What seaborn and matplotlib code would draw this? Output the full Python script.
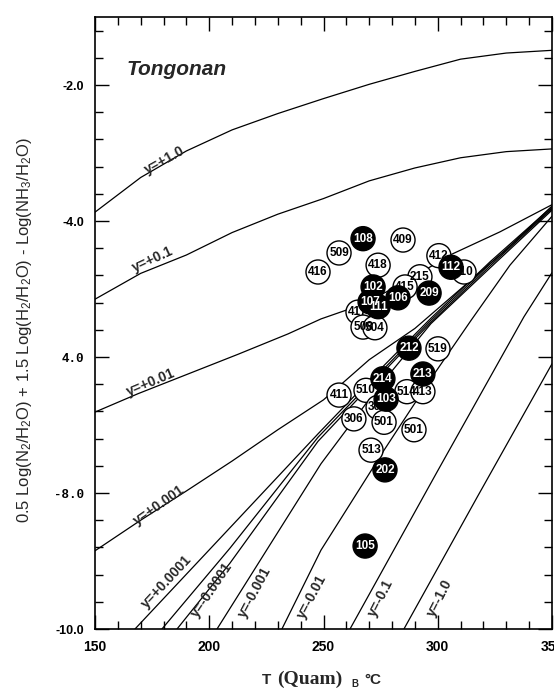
import matplotlib
matplotlib.use("Agg")
import matplotlib.pyplot as plt
import pandas as pd
import seaborn as sns
from matplotlib.ticker import MultipleLocator

# curves: T (deg C) and 0.5logN2 + 1.5logH2 - logNH3
t_p1 = [150, 170, 190, 210, 230, 250, 270, 290, 310, 330, 350]
v_p1 = [-3.87, -3.36, -2.97, -2.66, -2.42, -2.20, -1.99, -1.80, -1.62, -1.53, -1.49]
t_p01 = [150, 170, 190, 210, 230, 250, 270, 290, 310, 330, 350]
v_p01 = [-5.15, -4.77, -4.50, -4.17, -3.90, -3.67, -3.41, -3.22, -3.07, -2.98, -2.94]
t_p001 = [150, 168.8, 190.7, 212.6, 234.5, 248.9, 266.0, 283.5, 305.4, 327.2, 350]
v_p001 = [-6.81, -6.54, -6.25, -5.96, -5.66, -5.44, -5.24, -4.94, -4.50, -4.16, -3.76]
t_p0001 = [150, 170, 190, 210, 230, 250, 270, 290, 310, 330, 350]
v_p0001 = [-8.85, -8.40, -7.97, -7.53, -7.07, -6.63, -6.04, -5.58, -5.00, -4.42, -3.78]
t_p00001 = [167.5, 209.1, 247.6, 272.5, 297.0, 322.9, 350]
v_p00001 = [-10.0, -8.51, -7.13, -6.26, -5.43, -4.60, -3.79]
t_zero = [179.3, 209.1, 247.6, 272.5, 297.0, 322.9, 350]
v_zero = [-10.0, -8.81, -7.18, -6.31, -5.46, -4.63, -3.81]
t_m00001 = [185.9, 209.1, 247.6, 272.5, 297.0, 322.9, 350]
v_m00001 = [-10.0, -9.03, -7.24, -6.35, -5.49, -4.66, -3.82]
t_m0001 = [203.4, 226.6, 248.9, 272.5, 297.0, 322.9, 350]
v_m0001 = [-10.0, -8.76, -7.57, -6.51, -5.51, -4.69, -3.84]
t_m001 = [231.8, 248.9, 276.5, 296.6, 314.6, 331.6, 350]
v_m001 = [-10.0, -8.84, -7.37, -6.34, -5.46, -4.65, -3.93]
t_m01 = [261.6, 299.7, 337.7, 350]
v_m01 = [-10.0, -7.69, -5.41, -4.76]
t_m1 = [285.2, 317.6, 350]
v_m1 = [-10.0, -8.04, -6.10]

curve_names = ["y=+1.0", "y=+0.1", "y=+0.01", "y=+0.001", "y=+0.0001", "y=0",
               "y=-0.0001", "y=-0.001", "y=-0.01", "y=-0.1", "y=-1.0"]
curve_t = [t_p1, t_p01, t_p001, t_p0001, t_p00001, t_zero, t_m00001, t_m0001, t_m001, t_m01, t_m1]
curve_v = [v_p1, v_p01, v_p001, v_p0001, v_p00001, v_zero, v_m00001, v_m0001, v_m001, v_m01, v_m1]

# wells (drawing order: open circles first, then filled)
well_id = ["509", "416", "409", "418", "412", "410", "215", "415", "417", "508", "504",
           "519", "411", "510", "514", "413", "305", "306", "501", "501", "513",
           "108", "112", "209", "106", "102", "107", "111", "212", "214", "213", "103", "202", "105"]
well_T = [256.8, 247.6, 284.8, 273.9, 300.5, 311.5, 292.2, 285.7, 265.1, 267.3, 272.5,
          300.1, 256.8, 268.6, 286.5, 293.5, 273.9, 263.3, 276.5, 289.6, 270.8,
          267.3, 305.8, 296.2, 282.6, 271.7, 270.4, 273.9, 287.4, 276.0, 293.5, 277.4, 276.9, 268.2]
well_Y = [-4.47, -4.75, -4.28, -4.65, -4.51, -4.75, -4.82, -4.97, -5.34, -5.56, -5.57,
          -5.88, -6.56, -6.49, -6.51, -6.51, -6.74, -6.91, -6.96, -7.07, -7.37,
          -4.26, -4.68, -5.06, -5.13, -4.97, -5.19, -5.26, -5.87, -6.32, -6.25, -6.62, -7.66, -8.78]
well_kind = ["open"] * 21 + ["filled"] * 13

x_ticks = [150, 200, 250, 300, 350]
y_ticks = [-10, -8, -6, -4, -2]
y_ticklabels = ["-10.0", "-8.0", "4.0", "-4.0", "-2.0"]

# label placement for the curves (T, value, angle)
label_pos = {
    "y=+1.0": (180.6, -3.10, 29), "y=+0.1": (175.4, -4.57, 25), "y=+0.01": (174.5, -6.38, 23),
    "y=+0.001": (178.0, -8.18, 35), "y=+0.0001": (181.5, -9.30, 47), "y=-0.0001": (201.2, -9.43, 56),
    "y=-0.001": (220.0, -9.46, 62), "y=-0.01": (245.0, -9.53, 62), "y=-0.1": (275.2, -9.54, 63),
    "y=-1.0": (301.0, -9.54, 63),
}

sns.set_style("ticks")
plt.rcParams["font.family"] = ["Liberation Sans", "DejaVu Sans"]
plt.rcParams["mathtext.default"] = "regular"

rows = []
for name, ts, vs in zip(curve_names, curve_t, curve_v):
    for t, v in zip(ts, vs):
        rows.append((name, t, v))
curves = pd.DataFrame(rows, columns=["curve", "T", "val"])
wells = pd.DataFrame({"id": well_id, "T": well_T, "val": well_Y, "kind": well_kind})

fig = plt.figure(figsize=(5.54, 6.89), dpi=100)
ax = fig.add_axes([95 / 554, 60 / 689, 457 / 554, 612 / 689])

sns.lineplot(data=curves, x="T", y="val", units="curve", estimator=None, sort=False,
             color="black", lw=0.9, ax=ax, zorder=2)
sns.scatterplot(data=wells, x="T", y="val", hue="kind",
                palette={"open": "white", "filled": "black"},
                edgecolor="black", linewidth=1.0, s=300, legend=False, ax=ax, zorder=3)
for i, r in wells.iterrows():
    ax.text(r["T"], r["val"], r["id"], ha="center", va="center", fontsize=8.5,
            fontweight="bold", color="white" if r["kind"] == "filled" else "black",
            zorder=4 + i * 0.001)

for name, (t, v, ang) in label_pos.items():
    ax.text(t, v, name, rotation=ang, rotation_mode="anchor", ha="center", va="center",
            fontsize=10, fontweight="bold")

ax.text(0.07, 0.915, "Tongonan", transform=ax.transAxes, fontsize=15,
        fontweight="bold", style="italic", ha="left", va="center")

ax.set_xlim(150, 350)
ax.set_ylim(-10, -1)
ax.set_xticks(x_ticks)
ax.set_xticklabels([str(t) for t in x_ticks])
ax.xaxis.set_minor_locator(MultipleLocator(10))
ax.set_yticks(y_ticks)
ax.set_yticklabels(y_ticklabels)
ax.yaxis.set_minor_locator(MultipleLocator(0.4))
ax.tick_params(which="both", direction="in", top=True, right=True, width=1, colors="black")
ax.tick_params(which="major", length=10, pad=8)
ax.tick_params(which="minor", length=5.5)
for lab in ax.get_xticklabels():
    lab.set_fontweight("bold")
    lab.set_fontsize(10)
for lab in ax.get_yticklabels():
    lab.set_fontweight("bold")
    lab.set_fontsize(9)
    if lab.get_text() in ("4.0", "-8.0"):
        lab.set_fontfamily("Liberation Mono")
for sp in ax.spines.values():
    sp.set_linewidth(1.2)
    sp.set_color("black")
ax.set_xlabel("")
ax.set_ylabel("")

fig.text(25 / 554, 1 - 330 / 689,
         "0.5 Log(N$_2$/H$_2$O) + 1.5 Log(H$_2$/H$_2$O) - Log(NH$_3$/H$_2$O)",
         rotation=90, ha="center", va="center", fontsize=12)
fig.text(262 / 554, 1 - 680 / 689, "T", fontsize=11, fontweight="bold", ha="left", va="center")
fig.text(277 / 554, 1 - 679 / 689, "(Quam)", fontsize=14, fontweight="bold",
         family="Liberation Serif", ha="left", va="center")
fig.text(351 / 554, 1 - 684 / 689, "B", fontsize=7, fontweight="bold", ha="left", va="center")
fig.text(364 / 554, 1 - 680 / 689, "°C", fontsize=11, fontweight="bold", ha="left", va="center")

fig.savefig("out.png", dpi=100)
